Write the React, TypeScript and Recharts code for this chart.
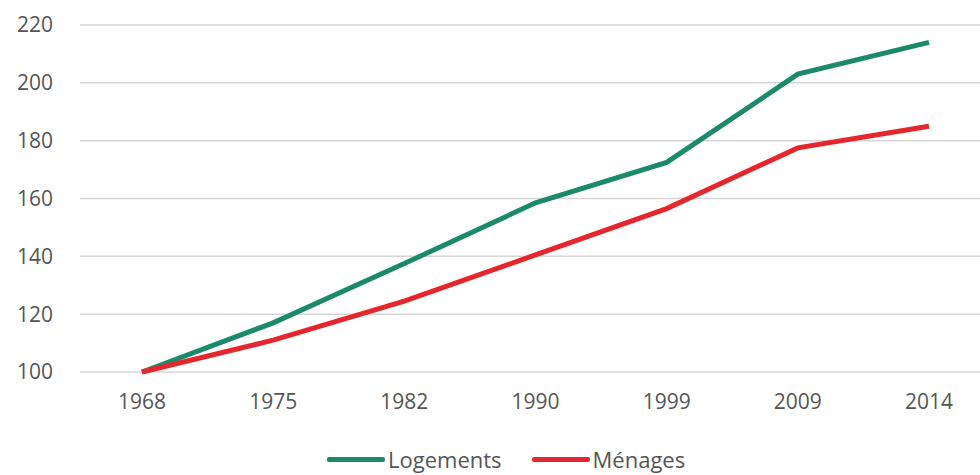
import { LineChart, Line, XAxis, YAxis, CartesianGrid, Legend } from 'recharts';

const years = ['1968', '1975', '1982', '1990', '1999', '2009', '2014'];
const logements = [100, 117, 137.5, 158.5, 172.5, 203, 214];
const menages = [100, 111, 124.5, 140.5, 156.5, 177.5, 185];
const yTicks = [100, 120, 140, 160, 180, 200, 220];

const GREEN = '#1b8a6b';
const RED = '#e5262c';
const TEXT = '#555555';
const FONT = '"Open Sans", "Noto Sans", sans-serif';

const data = years.map((y, i) => ({ year: y, logements: logements[i], menages: menages[i] }));

/* légende maison : trait épais + libellé */
function LegendRow() {
  const items = [
    { label: 'Logements', color: GREEN },
    { label: 'Ménages', color: RED }
  ];
  return (
    <div style={{ display: 'flex', alignItems: 'center', paddingLeft: 327, height: 26, lineHeight: '26px', fontFamily: FONT, fontSize: 22, color: TEXT }}>
      {items.map((it) => (
        <div key={it.label} style={{ display: 'flex', alignItems: 'center', marginRight: 30 }}>
          <span style={{ display: 'inline-block', width: 58, height: 5, borderRadius: 2, background: it.color, marginRight: 3 }} />
          <span>{it.label}</span>
        </div>
      ))}
    </div>
  );
}

export default function App() {
  return (
    <div style={{ position: 'absolute', left: 0, top: 0, width: 980, height: 475, background: '#fff' }}>
      <LineChart width={980} height={475} data={data} margin={{ top: 25, right: 0, bottom: 47, left: 0 }}>
        <CartesianGrid horizontal vertical={false} stroke="#d6d6d6" strokeWidth={1.5} />
        <XAxis
          dataKey="year"
          axisLine={false}
          tickLine={false}
          tickSize={0}
          tickMargin={22}
          padding={{ left: 62, right: 51 }}
          tick={{ fill: TEXT, fontSize: 21, fontFamily: FONT }}
          interval={0}
        />
        <YAxis
          width={80}
          domain={[100, 220]}
          ticks={yTicks}
          axisLine={false}
          tickLine={false}
          tickSize={0}
          tickMargin={27}
          tick={{ fill: TEXT, fontSize: 21, fontFamily: FONT }}
        />
        <Legend
          verticalAlign="bottom"
          wrapperStyle={{ left: 0, top: 446, width: 980, height: 26 }}
          content={() => <LegendRow />}
        />
        <Line type="linear" dataKey="logements" name="Logements" stroke={GREEN} strokeWidth={5} dot={false} isAnimationActive={false} />
        <Line type="linear" dataKey="menages" name="Ménages" stroke={RED} strokeWidth={5} dot={false} isAnimationActive={false} />
      </LineChart>
    </div>
  );
}
